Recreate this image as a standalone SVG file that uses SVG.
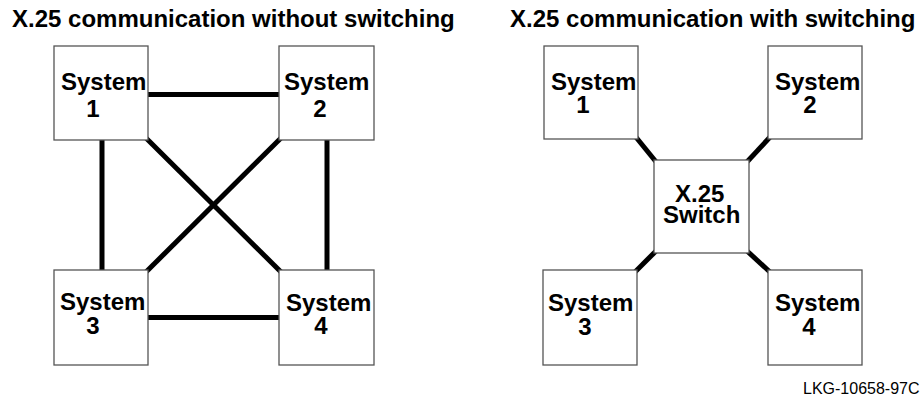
<svg xmlns="http://www.w3.org/2000/svg" width="923" height="398" viewBox="0 0 923 398">
<style>
.t{font-family:"Liberation Sans",Arial,Helvetica,sans-serif;font-weight:bold;font-size:24px;fill:#000}
.m{text-anchor:middle}
.box{fill:#fff;stroke:#555;stroke-width:1.3}
.c{stroke:#000;stroke-width:5;fill:none}
.lbl{font-family:"Liberation Sans",Arial,Helvetica,sans-serif;font-size:16px;fill:#000}
</style>
<rect width="923" height="398" fill="#fff"/>
<text class="t" x="12" y="27">X.25 communication without switching</text>
<text class="t" x="510" y="27">X.25 communication with switching</text>
<g id="connectors">
<line class="c" x1="148" y1="94.5" x2="279" y2="94.5"/>
<line class="c" x1="148" y1="317.5" x2="279" y2="317.5"/>
<line class="c" x1="102" y1="140" x2="102" y2="270"/>
<line class="c" x1="327" y1="140" x2="327" y2="270"/>
<line class="c" x1="146" y1="138" x2="281" y2="272"/>
<line class="c" x1="281" y1="138" x2="146" y2="272"/>
<line class="c" x1="635" y1="136" x2="657" y2="163"/>
<line class="c" x1="771" y1="136" x2="746" y2="163"/>
<line class="c" x1="657" y1="250" x2="634" y2="273"/>
<line class="c" x1="746" y1="250" x2="771" y2="273"/>
</g>
<g id="l-sys1"><rect class="box" x="54" y="46" width="94" height="94"/><text class="t" x="61" y="90">System</text><text class="t m" x="93" y="117">1</text></g>
<g id="l-sys2"><rect class="box" x="279" y="46" width="95" height="94"/><text class="t" x="284" y="90">System</text><text class="t m" x="320" y="117">2</text></g>
<g id="l-sys3"><rect class="box" x="54" y="270" width="94" height="95"/><text class="t" x="60" y="310">System</text><text class="t m" x="93" y="334">3</text></g>
<g id="l-sys4"><rect class="box" x="279" y="270" width="95" height="95"/><text class="t" x="286" y="311">System</text><text class="t m" x="321" y="334">4</text></g>
<g id="r-sys1"><rect class="box" x="544" y="46" width="94" height="93"/><text class="t" x="551" y="90">System</text><text class="t m" x="583" y="113">1</text></g>
<g id="r-sys2"><rect class="box" x="768" y="46" width="94" height="93"/><text class="t" x="775" y="90">System</text><text class="t m" x="810" y="113">2</text></g>
<g id="r-sys3"><rect class="box" x="543" y="270" width="94" height="95"/><text class="t" x="548" y="311">System</text><text class="t m" x="585" y="335">3</text></g>
<g id="r-sys4"><rect class="box" x="768" y="270" width="94" height="95"/><text class="t" x="775" y="311">System</text><text class="t m" x="809" y="335">4</text></g>
<g id="switch"><rect class="box" x="654" y="160" width="95" height="93"/><text class="t" x="675" y="202">X.25</text><text class="t" x="663" y="223">Switch</text></g>
<text class="lbl" x="803" y="394">LKG-10658-97C</text>
</svg>
